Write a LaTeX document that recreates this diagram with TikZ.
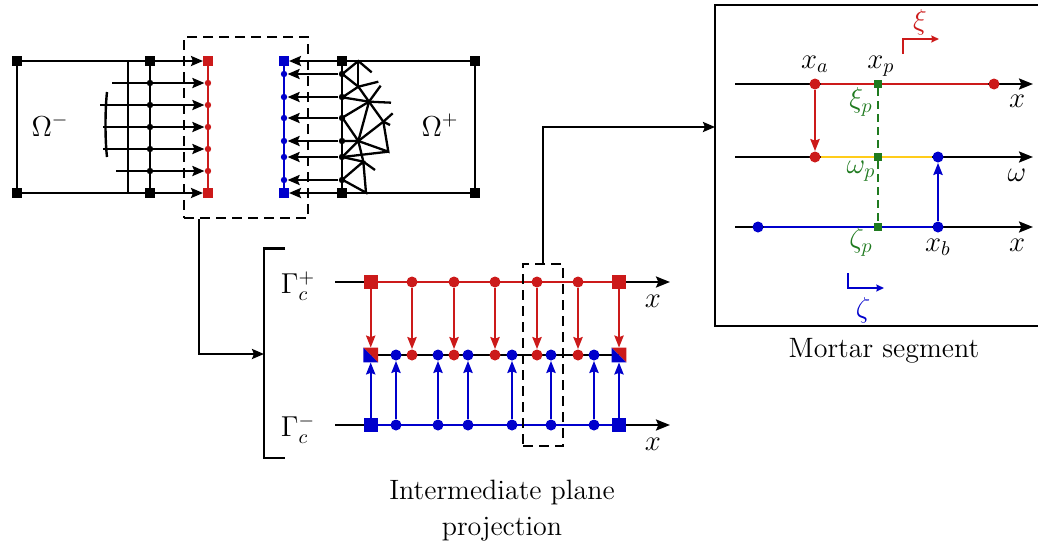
\documentclass[tikz,border=0pt]{standalone}
\usetikzlibrary{arrows.meta,backgrounds}
\definecolor{cred}{HTML}{CC1A1A}
\definecolor{cblue}{HTML}{0000CC}
\definecolor{cgreen}{HTML}{1F7A1F}
\definecolor{cyellow}{HTML}{FFCC1A}
\tikzset{
  ln/.style={line width=1.15pt},
  arr/.style={ln,-{Stealth[length=6pt,width=5pt,inset=1pt]}},
  axis/.style={ln,-{Stealth[length=7pt,width=5.5pt,inset=1.2pt]}},
  redarr/.style={ln,cred,-{Stealth[length=6pt,width=4.6pt,inset=0.8pt]}},
  bluarr/.style={ln,cblue,-{Stealth[length=6pt,width=4.6pt,inset=0.8pt]}},
  dsh/.style={line width=0.8pt,dash pattern=on 5pt off 3pt},
  sqk/.style={rectangle,fill=black,minimum size=4.6pt,inner sep=0pt},
  sqr/.style={rectangle,fill=cred,minimum size=4.6pt,inner sep=0pt},
  sqb/.style={rectangle,fill=cblue,minimum size=4.6pt,inner sep=0pt},
  dk/.style={circle,fill=black,minimum size=3.2pt,inner sep=0pt},
  dr/.style={circle,fill=cred,minimum size=3.2pt,inner sep=0pt},
  db/.style={circle,fill=cblue,minimum size=3.2pt,inner sep=0pt},
  bigs/.style={minimum size=7pt},
  bigd/.style={minimum size=5.5pt},
  sqg/.style={rectangle,fill=cgreen,minimum size=4pt,inner sep=0pt},
  lab/.style={inner sep=0pt,font=\Large},
  txt/.style={inner sep=0pt,font=\fontsize{14}{18}\selectfont},
  mesh/.style={line width=1.15pt},
}
\begin{document}
\begin{tikzpicture}[x=0.5pt,y=-0.5pt]
\useasboundingbox (0,0) rectangle (1038,542);
% ---- left body
\node[sqk] (tl) at (17,61) {};
\node[sqk] (bl) at (17,193) {};
\node[sqk] (tm) at (150,61) {};
\node[sqk] (bm) at (150,193) {};
\node[sqr] (rt) at (208,61) {};
\node[sqr] (rb) at (208,193) {};
\begin{scope}[on background layer]
\draw[ln] (tm.center) -- (tl.center) -- (bl.center) -- (bm.center);
\draw[ln] (127.7,61) -- (127.7,193);
\draw[ln] (tm) -- (bm);
\draw[line width=1.2pt] (107,92) .. controls (105,110) and (105,140) .. (107,157);
\draw[ln,cred] (rt) -- (rb);
\draw[arr] (tm) -- (rt);
\draw[arr] (bm) -- (rb);
\end{scope}
\foreach \i/\y/\s in {1/83/112,2/105/100,3/127/103,4/149/103,5/171/116}{
  \coordinate (ls\i) at (\s,\y);
  \node[dk] (lm\i) at (150,\y) {};
  \node[dr] (lr\i) at (208,\y) {};
  \begin{scope}[on background layer]
  \draw[arr] (ls\i) -- (lr\i);
  \end{scope}
}
\node[lab] (omm) at (50,125) {$\Omega^-$};
% ---- right body
\node[sqk] (tr) at (475,61) {};
\node[sqk] (br) at (475,193) {};
\node[sqk] (tn) at (342,61) {};
\node[sqk] (bn) at (342,193) {};
\node[sqb] (bt) at (284,61) {};
\node[sqb] (bb) at (284,193) {};
\begin{scope}[on background layer]
\draw[ln] (tn.center) -- (tr.center) -- (br.center) -- (bn.center);
\draw[ln] (tn) -- (bn);
\draw[ln,cblue] (bt) -- (bb);
\draw[arr] (tn) -- (bt);
\draw[arr] (bn) -- (bb);
\end{scope}
\foreach \i/\y in {1/74,2/97,3/118,4/141,5/157,6/180}{
  \node[dk] (rm\i) at (342,\y) {};
  \node[db] (rb\i) at (284,\y) {};
  \begin{scope}[on background layer]
  \draw[arr] (rm\i) -- (rb\i);
  \end{scope}
}
\begin{scope}[shift={(260,20)},x=0.16667pt,y=-0.16667pt]
\draw[mesh] (247,162)--(295,123)--(335,157);
\draw[mesh] (295,123)--(295,197);
\draw[mesh] (247,162)--(295,200)--(355,185);
\draw[mesh] (295,200)--(247,232)--(327,245)--(393,248);
\draw[mesh] (295,200)--(327,245)--(362,197);
\draw[mesh] (247,293)--(327,245)--(370,305);
\draw[mesh] (327,245)--(295,363);
\draw[mesh] (247,293)--(295,363)--(247,363);
\draw[mesh] (295,363)--(370,305)--(398,280);
\draw[mesh] (370,305)--(390,315);
\draw[mesh] (370,305)--(385,395)--(295,363);
\draw[mesh] (247,411)--(295,363)--(310,425)--(345,450);
\draw[mesh] (247,411)--(385,395);
\draw[mesh] (247,411)--(310,425)--(247,479)--(318,518)--(310,425);
\end{scope}
\node[lab] (omp) at (440,125) {$\Omega^+$};
% ---- dashed boxes
\node[draw,dsh,minimum width=62pt,minimum height=90.5pt,inner sep=0pt] (dbox) at (246,127.5) {};
\node[draw,dsh,minimum width=20pt,minimum height=91pt,inner sep=0pt] (pbox) at (543,355) {};
% ---- projection panel
\coordinate (brT) at (285,248.5);
\coordinate (brTa) at (264,248.5);
\coordinate (brBa) at (264,458);
\coordinate (brB) at (285,458);
\coordinate (brM) at (264,354);
\draw[ln] (brT) -- (brTa) -- (brBa) -- (brB);
\draw[arr] (dbox.south -| 199,0) -- (199,354) -- (brM);
\coordinate (ta) at (335,282);
\coordinate (te) at (670,282);
\coordinate (ba) at (335,425);
\coordinate (be) at (670,425);
\node[sqr,bigs] (A0) at (370.7,282) {};
\node[sqr,bigs] (A7) at (619,282) {};
\node[sqb,bigs] (C0) at (370.7,425) {};
\node[sqb,bigs] (C9) at (619,425) {};
\node[rectangle,minimum size=7pt,inner sep=0pt] (M0) at (370.7,355) {};
\node[rectangle,minimum size=7pt,inner sep=0pt] (M1) at (619,355) {};
\begin{scope}[on background layer]
\draw[axis] (ta) -- (te);
\draw[axis] (ba) -- (be);
\draw[ln] (M0.center) -- (M1.center);
\draw[ln,cred] (A0) -- (A7);
\draw[ln,cblue] (C0) -- (C9);
\end{scope}
\fill[cred] (M0.north west) -- (M0.north east) -- (M0.south east) -- cycle;
\fill[cblue] (M0.north west) -- (M0.south west) -- (M0.south east) -- cycle;
\fill[cred] (M1.north west) -- (M1.north east) -- (M1.south east) -- cycle;
\fill[cblue] (M1.north west) -- (M1.south west) -- (M1.south east) -- cycle;
\draw[redarr] (A0) -- (M0);
\draw[redarr] (A7) -- (M1);
\draw[bluarr] (C0) -- (M0);
\draw[bluarr] (C9) -- (M1);
\foreach \i/\x in {1/412,2/454,3/495,4/537,5/578}{
  \node[dr,bigd] (T\i) at (\x,282) {};
  \node[dr,bigd] (U\i) at (\x,355) {};
  \draw[redarr] (T\i) -- (U\i);
}
\foreach \i/\x in {1/396,2/438,3/468,4/512,5/551,6/594}{
  \node[db,bigd] (B\i) at (\x,425) {};
  \node[db,bigd] (V\i) at (\x,355) {};
  \draw[bluarr] (B\i) -- (V\i);
}
\node[lab] (gp) at (298,286) {$\Gamma_c^+$};
\node[lab] (gm) at (298,429) {$\Gamma_c^-$};
\node[lab] (xa1) at (653,301) {$x$};
\node[lab] (xa2) at (653,444) {$x$};
\node[txt,align=center] (ipl) at (502,511) {Intermediate plane\\projection};
% ---- mortar panel
\coordinate (mTR) at (1038,5);
\coordinate (mTL) at (715,5);
\coordinate (mBL) at (715,326);
\coordinate (mBR) at (1038,326);
\draw[ln] (mTR) -- (mTL) -- (mBL) -- (mBR);
\draw[arr] (pbox.north) -- (543,127) -- (mTL |- 0,127);
\coordinate (l1a) at (735,84);
\coordinate (l1b) at (1033,84);
\coordinate (l2a) at (735,157);
\coordinate (l2b) at (1033,157);
\coordinate (l3a) at (735,227);
\coordinate (l3b) at (1033,227);
\node[dr,bigd] (xa) at (815,84) {};
\node[dr,bigd] (xe) at (994,84) {};
\node[dr,bigd] (wa) at (815,157) {};
\node[db,bigd] (wb) at (938,157) {};
\node[db,bigd] (xs) at (758,227) {};
\node[db,bigd] (xb) at (938,227) {};
\node[sqg] (gt) at (878,84) {};
\node[sqg] (gm2) at (878,157) {};
\node[sqg] (gb) at (878,227) {};
\begin{scope}[on background layer]
\draw[axis] (l1a) -- (l1b);
\draw[axis] (l2a) -- (l2b);
\draw[axis] (l3a) -- (l3b);
\draw[ln,cred] (xa) -- (gt) -- (xe);
\draw[ln,cyellow] (wa) -- (gm2) -- (wb);
\draw[ln,cblue] (xs) -- (gb) -- (xb);
\end{scope}
\draw[line width=0.9pt,cgreen,dash pattern=on 4pt off 2.5pt] (gt) -- (gm2) -- (gb);
\draw[redarr] (xa) -- (wa);
\draw[bluarr] (xb) -- (wb);
\coordinate (xi0) at (903,54);
\coordinate (xi1) at (903,39);
\coordinate (xi2) at (939,39);
\draw[cred,line width=0.9pt,-{Stealth[length=3.8pt,width=3.4pt,inset=0.4pt]}] (xi0) -- (xi1) -- (xi2);
\coordinate (ze0) at (848,273);
\coordinate (ze1) at (848,288);
\coordinate (ze2) at (884,288);
\draw[cblue,line width=0.9pt,-{Stealth[length=3.8pt,width=3.4pt,inset=0.4pt]}] (ze0) -- (ze1) -- (ze2);
\node[lab,cred] (xil) at (920,22) {$\xi$};
\node[lab,cblue] (zel) at (863,310) {$\zeta$};
\node[lab] (lxa) at (815,64) {$x_a$};
\node[lab] (lxp) at (881,66) {$x_p$};
\node[lab] (lxb) at (938,247) {$x_b$};
\node[lab] (lx1) at (1017,101) {$x$};
\node[lab] (lw) at (1017,175) {$\omega$};
\node[lab] (lx3) at (1017,245) {$x$};
\node[lab,cgreen] (lxip) at (861,102) {$\xi_p$};
\node[lab,cgreen] (lwp) at (861,171) {$\omega_p$};
\node[lab,cgreen] (lzp) at (861,242) {$\zeta_p$};
\node[txt] (ms) at (884,351) {Mortar segment};
\end{tikzpicture}
\end{document}
